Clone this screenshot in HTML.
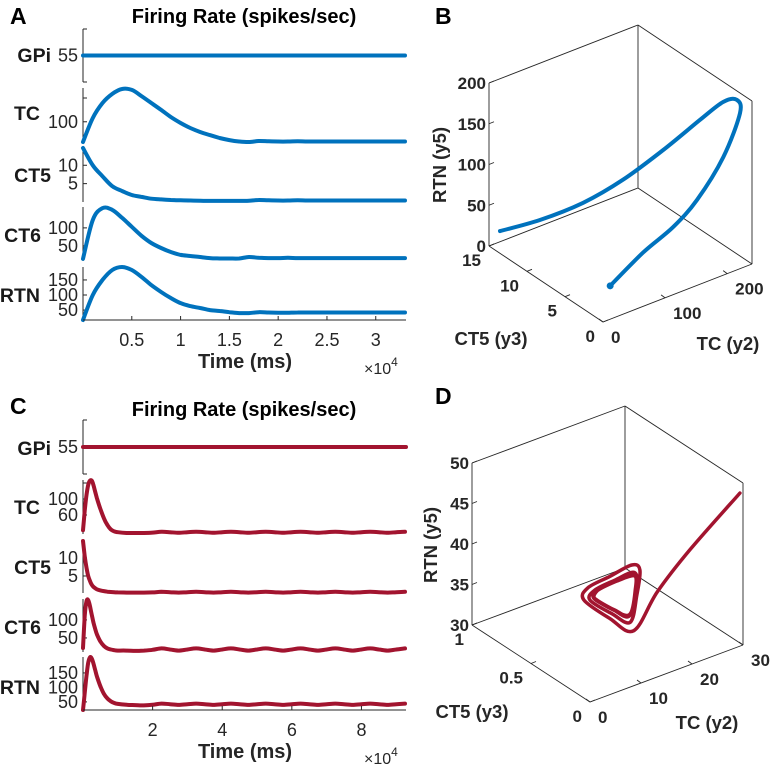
<!DOCTYPE html>
<html><head><meta charset="utf-8">
<style>
html,body{margin:0;padding:0;background:#fff;}
svg{display:block;font-family:"Liberation Sans",Arial,sans-serif;}
</style></head>
<body>
<svg id="fig" width="771" height="765" viewBox="0 0 771 765" xmlns="http://www.w3.org/2000/svg">
<text x="10" y="24" font-size="23" font-weight="bold" fill="#000">A</text>
<text x="435" y="24" font-size="23" font-weight="bold" fill="#000">B</text>
<text x="10" y="414" font-size="23" font-weight="bold" fill="#000">C</text>
<text x="435" y="404" font-size="23" font-weight="bold" fill="#000">D</text>
<text x="244" y="23" font-size="20" font-weight="bold" text-anchor="middle" fill="#000">Firing Rate (spikes/sec)</text>
<text x="244" y="416" font-size="20" font-weight="bold" text-anchor="middle" fill="#000">Firing Rate (spikes/sec)</text>
</svg>
<script>
// ---------- Panel A data (time in units of 1e4 ms) ----------
const tA=[0,0.1,0.2,0.3,0.4,0.5,0.6,0.7,0.8,0.9,1.0,1.1,1.2,1.3,1.4,1.5,1.6,1.7,1.8,1.9,2.0,2.1,2.2,2.3,2.4,2.5,2.6,2.7,2.8,2.9,3.0,3.1,3.2,3.3];
const gpiT=[0,3.3];
const gpiA=[55,55];
const tcA=[15,116,179,217,238,234,208,179,150,120,95,74,57,44,32,23,17,15,19,18,17,17,18,17,17,17,17,17,17,17,17,17,17,17];
const ct5A=[14.7,10,7,4.3,3,1.9,1.4,0.9,0.7,0.55,0.45,0.4,0.35,0.3,0.3,0.3,0.3,0.35,0.55,0.45,0.4,0.4,0.45,0.4,0.4,0.4,0.4,0.4,0.4,0.4,0.4,0.4,0.4,0.4];
const ct6A=[14,122,155,150,128,103,78,58,44,33,25,22,19,16,15,15,15,19,17,16,16,17,16,16,16,16,16,16,16,16,16,16,16,16];
const rtnA=[17,100,150,183,193,183,160,133,110,90,73,63,57,50,47,43,40,40,43,42,41,41,42,42,42,42,42,42,42,42,42,42,42,42];
const xTicksA=[0.5,1,1.5,2,2.5,3];
const xTickLabelsA=["0.5","1","1.5","2","2.5","3"];

// ---------- Panel C data ----------
const tC=[0,0.05,0.1,0.15,0.2,0.25,0.3,0.35,0.4,0.5,0.6,0.7,0.8,0.9,1.0,1.25,1.5,1.75,2.0,2.25,2.5,2.75,3.0,3.25,3.5,3.75,4.0,4.25,4.5,4.75,5.0,5.25,5.5,5.75,6.0,6.25,6.5,6.75,7.0,7.25,7.5,7.75,8.0,8.25,8.5,8.75,9.0,9.25];
const gpiTC=[0,9.28];
const gpiC=[55,55];
const tcC=[22,70,110,135,146,146,135,118,102,75,52,35,24,19,17,15,15,15,16,18,17,15.5,17,18,17,15.5,17,18,17,15.5,17,18,17,15.5,17,18,17,15.5,17,18,17,15.5,17,18,17,15.5,17,18];
const ct5C=[14.7,10.5,7.3,5,3.6,2.6,2.0,1.6,1.3,1.0,0.8,0.65,0.55,0.5,0.45,0.4,0.4,0.4,0.45,0.6,0.5,0.4,0.5,0.6,0.5,0.4,0.5,0.6,0.5,0.4,0.5,0.6,0.5,0.4,0.5,0.6,0.5,0.4,0.5,0.6,0.5,0.4,0.5,0.6,0.5,0.4,0.5,0.6];
const ct6C=[22,110,152,155,138,115,93,75,60,40,28,21,18,16,15,15,14,15,17,21,18,15,18,21,18,15,18,21,18,15,18,21,18,15,18,21,18,15,18,21,18,15,18,21,18,15,18,21];
const rtnC=[22,80,140,185,204,200,183,160,138,104,78,62,52,46,43,40,39,38,40,44,42,39.5,42,44,42,39.5,42,44,42,39.5,42,44,42,39.5,42,44,42,39.5,42,44,42,39.5,42,44,42,39.5,42,44];
const xTicksC=[2,4,6,8];
const xTickLabelsC=["2","4","6","8"];

// ---------- Panel B data (3D trajectory) ----------
const bTC=[14,33,66,106,152,195,224,240,239,206,160,119,68,14];
const bCT5=[14.7,11,8,6,4.5,3.2,2.5,2,1.5,1,0.7,0.5,0.3,0.2];
const bRTN=[16,47,77,106,138,170,188,189,176,135,98,78,63,39];
const bTicksTC=[0,100,200];
const bTicksCT5=[0,5,10,15];
const bTicksRTN=[0,50,100,150,200];

// ---------- Panel D data (3D trajectory) ----------
const dTC=[31.7,21.9,15.5,10.9,6.2,1.1,1.9,6.2,10.5,12.1,11.5,10.2,6.6,2.3,3.3,7.2,10.9,11.5,10.2,7.2,3.1,3.9,7.6,11.1,11.3,10.0,6.8,3.1,3.9,7.6,11.1,11.3,10.0,6.8,3.1,3.6,7.4,11.0,11.2,10.1,6.9,3.2,3.9];
const dCT5=[0.1,0.1,0.1,0.1,0.1,0.1,0.1,0.1,0.1,0.1,0.1,0.1,0.1,0.1,0.1,0.1,0.1,0.1,0.1,0.1,0.1,0.1,0.1,0.1,0.1,0.1,0.1,0.1,0.1,0.1,0.1,0.1,0.1,0.1,0.1,0.1,0.1,0.1,0.1,0.1,0.1,0.1,0.1];
const dRTN=[47.4,42.7,39.0,35.3,37.9,41.4,42.7,43.1,43.5,42.5,39.6,36.5,38.4,41.1,42.1,42.4,42.5,40.8,37.4,38.7,41.1,42.0,42.3,42.1,40.2,37.3,38.9,41.2,42.0,42.2,42.0,40.1,37.3,38.9,41.2,41.9,42.2,42.1,40.3,37.5,38.8,41.1,42.0];
const dTicksTC=[0,10,20,30];
const dTicksCT5=[0,0.5,1];
const dTickLabelsCT5=["0","0.5","1"];
const dTicksRTN=[30,35,40,45,50];

const NS="http://www.w3.org/2000/svg";
const svg=document.getElementById('fig');
const AX="#262626";
function mk(tag,attrs,name,inter,parent){
  const e=document.createElementNS(NS,tag);
  for(const k in attrs)e.setAttribute(k,attrs[k]);
  
  
  (parent||svg).appendChild(e);
  return e;
}
function txt(x,y,s,attrs,name){
  const e=mk('text',Object.assign({x:x,y:y,fill:AX},attrs),name,'false');
  e.textContent=s;return e;
}
function smooth(p){
  let d='M'+p[0][0].toFixed(1)+','+p[0][1].toFixed(1);
  for(let i=0;i<p.length-1;i++){
    const p0=p[i-1]||p[i],p1=p[i],p2=p[i+1],p3=p[i+2]||p2;
    const c1=[p1[0]+(p2[0]-p0[0])/6,p1[1]+(p2[1]-p0[1])/6];
    const c2=[p2[0]-(p3[0]-p1[0])/6,p2[1]-(p3[1]-p1[1])/6];
    d+='C'+c1[0].toFixed(1)+','+c1[1].toFixed(1)+' '+c2[0].toFixed(1)+','+c2[1].toFixed(1)+' '+p2[0].toFixed(1)+','+p2[1].toFixed(1);
  }
  return d;
}

function timePanel(cfg){
  const g=mk('g',{},cfg.name,'false');
  const xs=t=>cfg.x0+(t/cfg.tmax)*(cfg.x1-cfg.x0);
  cfg.subs.forEach(s=>{
    const sg=mk('g',{},cfg.name+'-'+s.id+'-subplot','false',g);
    const ys=v=>s.bot-(v-s.lo)/(s.hi-s.lo)*(s.bot-s.top);
    mk('line',{x1:cfg.x0,y1:s.top,x2:cfg.x0,y2:s.bot,stroke:AX,'stroke-width':1},s.id+'-y-axis','false',sg);
    s.ticks.forEach((v,i)=>{
      const y=ys(v);
      mk('line',{x1:cfg.x0,y1:y,x2:cfg.x0+4,y2:y,stroke:AX,'stroke-width':1},s.id+'-y-tick','false',sg);
      if(s.labels[i]!=="")txt(cfg.x0-5,y+6,s.labels[i],{'font-size':18,'text-anchor':'end'},s.id+'-y-tick-label');
    });
    txt(s.nx,s.ny+7,s.id,{'font-size':19.5,'font-weight':'bold','text-anchor':'end',fill:'#1a1a1a'},s.id+'-row-label');
    const pts=s.t.map((t,i)=>[xs(t),ys(s.v[i])]);
    mk('path',{d:smooth(pts),fill:'none',stroke:cfg.color,'stroke-width':4,'stroke-linejoin':'round','stroke-linecap':'round'},s.id+'-series-line','true',sg);
  });
  const yb=cfg.subs[cfg.subs.length-1].bot;
  mk('line',{x1:cfg.x0,y1:yb,x2:cfg.x1,y2:yb,stroke:AX,'stroke-width':1},'x-axis','false',g);
  cfg.xt.forEach((t,i)=>{
    const x=xs(t);
    mk('line',{x1:x,y1:yb,x2:x,y2:yb-4,stroke:AX,'stroke-width':1},'x-tick','false',g);
    txt(x,yb+26,cfg.xl[i],{'font-size':18,'text-anchor':'middle'},'x-tick-label');
  });
  txt(245,yb+48,'Time (ms)',{'font-size':20,'font-weight':'bold','text-anchor':'middle'},'x-axis-title');
  const m=txt(364,yb+54,'×10',{'font-size':16},'x-exponent-label');
  const sup=document.createElementNS(NS,'tspan');sup.setAttribute('dy','-8');sup.setAttribute('font-size','12');sup.textContent='4';m.appendChild(sup);
}

timePanel({name:'panel-a',color:'#0072BD',x0:83,x1:406,tmax:3.31,xt:xTicksA,xl:xTickLabelsA,subs:[
 {id:'GPi',top:29,bot:82,lo:50,hi:60,ticks:[50,55,60],labels:["","55",""],t:gpiT,v:gpiA,nx:51,ny:55},
 {id:'TC',top:88,bot:142,lo:15,hi:242,ticks:[100,200],labels:["100",""],t:tA,v:tcA,nx:40,ny:113},
 {id:'CT5',top:148,bot:202,lo:0,hi:14.7,ticks:[5,10],labels:["5","10"],t:tA,v:ct5A,nx:51,ny:175},
 {id:'CT6',top:207,bot:261,lo:8,hi:158,ticks:[50,100],labels:["50","100"],t:tA,v:ct6A,nx:41,ny:235},
 {id:'RTN',top:267,bot:320,lo:17,hi:193,ticks:[50,100,150],labels:["50","100","150"],t:tA,v:rtnA,nx:40,ny:295}
]});
timePanel({name:'panel-c',color:'#A2142F',x0:83,x1:406,tmax:9.28,xt:xTicksC,xl:xTickLabelsC,subs:[
 {id:'GPi',top:420,bot:474,lo:50,hi:60,ticks:[50,55,60],labels:["","55",""],t:gpiTC,v:gpiC,nx:51,ny:448},
 {id:'TC',top:480,bot:534,lo:12.5,hi:147.5,ticks:[60,100,140],labels:["60","100",""],t:tC,v:tcC,nx:40,ny:507},
 {id:'CT5',top:541,bot:593,lo:0.28,hi:14.7,ticks:[5,10],labels:["5","10"],t:tC,v:ct5C,nx:51,ny:567},
 {id:'CT6',top:599,bot:652,lo:11,hi:158,ticks:[50,100],labels:["50","100"],t:tC,v:ct6C,nx:41,ny:627},
 {id:'RTN',top:657,bot:710,lo:22,hi:205,ticks:[50,100,150],labels:["50","100","150"],t:tC,v:rtnC,nx:40,ny:687}
]});

function panel3d(cfg){
  const g=mk('g',{},cfg.name,'false');
  const P=(a,b,c)=>[cfg.O[0]+a/cfg.aMax*cfg.A[0]+b/cfg.bMax*cfg.B[0],
                    cfg.O[1]+a/cfg.aMax*cfg.A[1]+b/cfg.bMax*cfg.B[1]-(c-cfg.cMin)/(cfg.cMax-cfg.cMin)*cfg.H];
  const lo=cfg.cMin,hi=cfg.cMax,am=cfg.aMax,bm=cfg.bMax;
  const edges=[[[0,0,lo],[am,0,lo]],[[0,0,lo],[0,bm,lo]],[[0,bm,lo],[am,bm,lo]],[[am,0,lo],[am,bm,lo]],
    [[0,bm,lo],[0,bm,hi]],[[am,0,lo],[am,0,hi]],[[am,bm,lo],[am,bm,hi]],[[0,bm,hi],[am,bm,hi]],[[am,0,hi],[am,bm,hi]]];
  edges.forEach(e=>{const p=P(...e[0]),q=P(...e[1]);
    mk('line',{x1:p[0],y1:p[1],x2:q[0],y2:q[1],stroke:AX,'stroke-width':0.9},'box-edge','false',g);});
  cfg.cT.forEach(v=>{const p=P(0,bm,v);
    mk('line',{x1:p[0],y1:p[1],x2:p[0]+5,y2:p[1]-2,stroke:AX,'stroke-width':0.9},'z-tick','false',g);
    txt(p[0]-3,p[1]+6,String(v),{'font-size':17,'font-weight':'bold','text-anchor':'end'},'z-tick-label');});
  cfg.aT.forEach(v=>{const p=P(v,0,lo);
    mk('line',{x1:p[0],y1:p[1],x2:p[0]-4,y2:p[1]-3,stroke:AX,'stroke-width':0.9},'x-tick','false',g);
    txt(p[0]+8,p[1]+21,String(v),{'font-size':17,'font-weight':'bold'},'x-tick-label');});
  cfg.bT.forEach((v,i)=>{const p=P(0,v,lo);
    mk('line',{x1:p[0],y1:p[1],x2:p[0]+5,y2:p[1]-2,stroke:AX,'stroke-width':0.9},'y-tick','false',g);
    txt(p[0]-8,p[1]+20,cfg.bL[i],{'font-size':17,'font-weight':'bold','text-anchor':'end'},'y-tick-label');});
  txt(cfg.bLab[0],cfg.bLab[1],'CT5 (y3)',{'font-size':18.5,'font-weight':'bold','text-anchor':'middle'},'y-axis-title');
  txt(cfg.aLab[0],cfg.aLab[1],'TC (y2)',{'font-size':18.5,'font-weight':'bold','text-anchor':'middle'},'x-axis-title');
  txt(cfg.cLab[0],cfg.cLab[1],'RTN (y5)',{'font-size':18.5,'font-weight':'bold','text-anchor':'middle',transform:'rotate(-90 '+cfg.cLab[0]+' '+cfg.cLab[1]+')'},'z-axis-title');
  const pts=cfg.a.map((v,i)=>P(v,cfg.b[i],cfg.c[i]));
  mk('path',{d:smooth(pts),fill:'none',stroke:cfg.color,'stroke-width':cfg.w,'stroke-linejoin':'round','stroke-linecap':'round'},'trajectory','true',g);
  if(cfg.dot){const e=pts[pts.length-1];
    mk('circle',{cx:e[0],cy:e[1],r:3.5,fill:cfg.color},'trajectory-end-point','false',g);}
}
panel3d({name:'panel-b',O:[603,322],A:[149,-58],B:[-114,-76],H:163,aMax:240,bMax:15,cMin:0,cMax:200,
  aT:bTicksTC,bT:bTicksCT5,bL:bTicksCT5.map(String),cT:bTicksRTN,a:bTC,b:bCT5,c:bRTN,color:'#0072BD',w:4,dot:true,
  bLab:[491,345],aLab:[728,350],cLab:[446,165]});
panel3d({name:'panel-d',O:[590,702],A:[153,-57],B:[-118,-77],H:162,aMax:30,bMax:1,cMin:30,cMax:50,
  aT:dTicksTC,bT:dTicksCT5,bL:dTickLabelsCT5,cT:dTicksRTN,a:dTC,b:dCT5,c:dRTN,color:'#A2142F',w:3.5,dot:false,
  bLab:[472,718],aLab:[707,729],cLab:[437,545]});
</script>
</body></html>
